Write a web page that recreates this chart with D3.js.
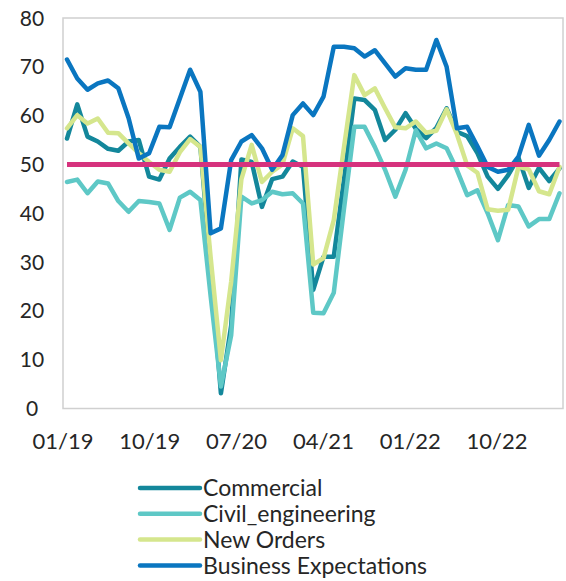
<!DOCTYPE html>
<html>
<head>
<meta charset="utf-8">
<script src="https://cdn.jsdelivr.net/npm/d3@7"></script>
<style>
  body { margin: 0; background: #fff; }
  text { font-family: Lato, "Open Sans", sans-serif; fill: #262626; }
</style>
</head>
<body>
<div id="chart"></div>
<script>
// months 01/19 .. 01/23
const months = d3.timeMonth.range(new Date(2019, 0, 1), new Date(2023, 1, 1)).map(d3.timeFormat("%m/%y"));
const tickLabels = ["01/19", "10/19", "07/20", "04/21", "01/22", "10/22"];
const yTicks = [0, 10, 20, 30, 40, 50, 60, 70, 80];
const threshold = 50;

const commercial = [55.3, 62.3, 55.7, 54.7, 53.2, 52.8, 54.7, 55.0, 47.5, 46.9,
  51.2, 53.6, 55.7, 53.6, 29.0, 3.1, 17.0, 51.0, 50.5, 41.3,
  47.0, 47.5, 50.6, 49.5, 24.3, 31.1, 31.1, 47.0, 63.5, 63.2,
  61.2, 55.0, 57.1, 60.5, 57.3, 55.4, 57.5, 61.5, 56.7, 55.8,
  52.3, 47.5, 45.0, 47.8, 51.4, 45.2, 49.3, 46.6, 49.2];
const civil = [46.4, 46.9, 44.1, 46.5, 46.1, 42.5, 40.3, 42.5, 42.3, 42.0,
  36.6, 43.2, 44.4, 42.7, 23.0, 4.5, 15.0, 43.4, 42.0, 42.7,
  44.4, 43.9, 44.1, 42.0, 19.6, 19.5, 23.7, 41.0, 57.7, 57.7,
  53.6, 48.9, 43.4, 48.9, 57.0, 53.3, 54.3, 53.3, 48.9, 43.7,
  44.7, 40.0, 34.5, 41.7, 41.4, 37.3, 38.8, 38.8, 44.1];
const newOrders = [57.4, 60.1, 58.4, 59.4, 56.5, 56.4, 54.3, 52.3, 50.5, 48.9,
  48.5, 52.5, 55.2, 53.6, 31.0, 9.9, 26.0, 47.0, 54.0, 46.4,
  48.5, 50.0, 57.4, 55.8, 29.5, 30.8, 38.6, 53.6, 68.3, 64.2,
  65.6, 61.5, 57.6, 57.4, 58.8, 56.5, 56.9, 61.3, 56.2, 49.8,
  48.3, 40.8, 40.5, 40.7, 49.5, 49.0, 44.5, 43.9, 49.5];
const expectations = [71.5, 67.6, 65.3, 66.6, 67.2, 65.6, 59.5, 51.2, 52.3, 57.7,
  57.6, 63.5, 69.4, 64.9, 35.9, 36.9, 50.9, 54.7, 56.0, 53.3,
  48.9, 51.9, 60.1, 62.5, 60.1, 63.9, 74.1, 74.1, 73.8, 72.1,
  73.4, 70.7, 68.0, 69.7, 69.4, 69.4, 75.5, 70.0, 57.4, 57.7,
  53.7, 49.5, 48.5, 48.9, 51.6, 58.1, 51.8, 55.0, 58.8];

const series = [
  { name: "Commercial", values: commercial, color: "#13879b" },
  { name: "Civil_engineering", values: civil, color: "#5ec8c6" },
  { name: "New Orders", values: newOrders, color: "#d5e68d" },
  { name: "Business Expectations", values: expectations, color: "#0a76c0" }
];

const width = 566, height = 581;
const frame = { left: 63, right: 563, top: 18, bottom: 408.5 };

const svg = d3.select("#chart").append("svg")
  .attr("width", width)
  .attr("height", height);

const x = d3.scalePoint()
  .domain(months)
  .range([67, 559.5]);

const y = d3.scaleLinear()
  .domain([0, 80])
  .range([frame.bottom, frame.top]);

// tick labels sit on their own spacing in the original
const xLab = d3.scalePoint()
  .domain(tickLabels)
  .range([63, 497]);

svg.append("rect")
  .attr("x", frame.left)
  .attr("y", frame.top)
  .attr("width", frame.right - frame.left)
  .attr("height", frame.bottom - frame.top)
  .attr("fill", "none")
  .attr("stroke", "#d0d0d0")
  .attr("stroke-width", 1.5);

svg.append("g")
  .selectAll("text")
  .data(yTicks)
  .join("text")
  .attr("x", 32)
  .attr("y", d => y(d))
  .attr("dy", "0.36em")
  .attr("text-anchor", "middle")
  .style("font-size", "21px")
  .text(d => d);

svg.append("g")
  .selectAll("text")
  .data(tickLabels)
  .join("text")
  .attr("x", d => xLab(d))
  .attr("y", 441.5)
  .attr("dy", "0.36em")
  .attr("text-anchor", "middle")
  .style("font-size", "22px")
  .text(d => d);

const line = d3.line()
  .x((d, i) => x(months[i]))
  .y(d => y(d));

svg.append("g")
  .selectAll("path")
  .data(series)
  .join("path")
  .attr("d", d => line(d.values))
  .attr("fill", "none")
  .attr("stroke", d => d.color)
  .attr("stroke-width", 4.5)
  .attr("stroke-linejoin", "round")
  .attr("stroke-linecap", "round");

// 50 = no change line
svg.append("line")
  .attr("x1", x(months[0]))
  .attr("x2", x(months[months.length - 1]))
  .attr("y1", y(threshold))
  .attr("y2", y(threshold))
  .attr("stroke", "#d6327d")
  .attr("stroke-width", 5);

const legend = svg.append("g")
  .selectAll("g")
  .data(series)
  .join("g")
  .attr("transform", (d, i) => `translate(140,${488 + i * 25.8})`);

legend.append("line")
  .attr("x1", 0)
  .attr("x2", 60)
  .attr("stroke", d => d.color)
  .attr("stroke-width", 4.5)
  .attr("stroke-linecap", "round");

legend.append("text")
  .attr("x", 63)
  .attr("dy", "0.36em")
  .style("font-size", "23px")
  .text(d => d.name);
</script>
</body>
</html>
